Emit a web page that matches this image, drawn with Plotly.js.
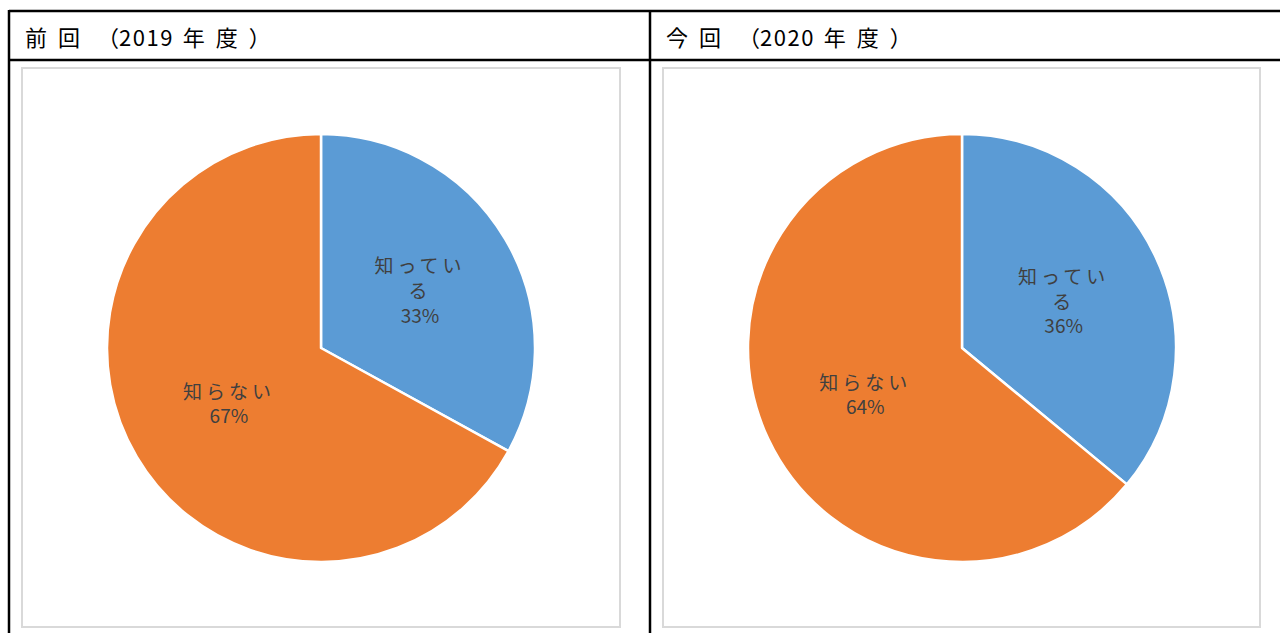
<!DOCTYPE html>
<html><head><meta charset="utf-8">
<script src="https://cdn.plot.ly/plotly-3.0.1.min.js"></script>
<style>html,body{margin:0;padding:0;background:#fff}#c{width:1280px;height:633px}</style>
</head><body><div id="c"></div>
<script>
const panelTitles = ['前回（2019 年度）', '今回（2020 年度）'];
const categories = ['知っている', '知らない'];
const displayText = ['知ってい<br>る', '知らない'];
const values2019 = [33, 67];
const values2020 = [36, 64];
const colors = ['#5B9BD5', '#ED7D31'];

const W = 1280, H = 633;
const px = x => x / W;
const py = y => 1 - y / H;

function pie(vals, x0, x1, y0, y1) {
  return {
    type: 'pie', labels: categories, values: vals, text: displayText,
    texttemplate: '<span style="letter-spacing:4px">%{text}</span><br>%{percent:.0%}', textinfo: 'text',
    textposition: 'inside', insidetextorientation: 'horizontal',
    sort: false, direction: 'clockwise', rotation: 0,
    marker: {colors: colors, line: {color: '#ffffff', width: 2.5}},
    textfont: {family: 'Noto Sans CJK JP', size: 19, color: '#404040'},
    hoverinfo: 'label+percent', showlegend: false,
    domain: {x: [px(x0), px(x1)], y: [py(y1), py(y0)]}
  };
}
const data = [pie(values2019, 107, 535, 134, 562), pie(values2020, 748, 1176, 134, 562)];

const line = (x0, y0, x1, y1, c, w) => ({type: 'line', xref: 'paper', yref: 'paper',
  x0: px(x0), y0: py(y0), x1: px(x1), y1: py(y1), line: {color: c, width: w}});
const rect = (x0, y0, x1, y1) => ({type: 'rect', xref: 'paper', yref: 'paper',
  x0: px(x0), y0: py(y0), x1: px(x1), y1: py(y1), line: {color: '#d9d9d9', width: 2}, fillcolor: 'rgba(0,0,0,0)', layer: 'below'});

const shapes = [
  line(9, 11, 1282, 11, '#000', 2.5),
  line(9, 60, 1282, 60, '#000', 2.5),
  line(9, 10, 9, 640, '#000', 2.5),
  line(650, 10, 650, 640, '#000', 2.5),
  rect(22, 68, 620, 627),
  rect(663, 68, 1260, 627)
];
// per-character tracking: wide for kanji, tight for digits
function styledTitle(t) {
  const out = [];
  for (const ch of t) {
    let sp;
    if (/[0-9]/.test(ch)) sp = 1.5;
    else if (ch === ' ') sp = 4;
    else if (ch === '（') { out.push('<span style="letter-spacing:1px"> </span>'); sp = 0; }
    else if (ch === '）') sp = 0;
    else sp = 11;
    out.push('<span style="letter-spacing:' + sp + 'px">' + ch + '</span>');
  }
  return out.join('');
}
const annotations = panelTitles.map((t, i) => ({
  xref: 'paper', yref: 'paper', x: px(i === 0 ? 23 : 664), y: py(36),
  xanchor: 'left', yanchor: 'middle', showarrow: false, text: styledTitle(t),
  font: {family: 'Noto Sans CJK JP', size: 22, color: '#000'}
}));

Plotly.newPlot('c', data, {
  width: W, height: H, margin: {l: 0, r: 0, t: 0, b: 0},
  paper_bgcolor: '#fff', shapes: shapes, annotations: annotations
}, {displayModeBar: false, staticPlot: true});
</script></body></html>
